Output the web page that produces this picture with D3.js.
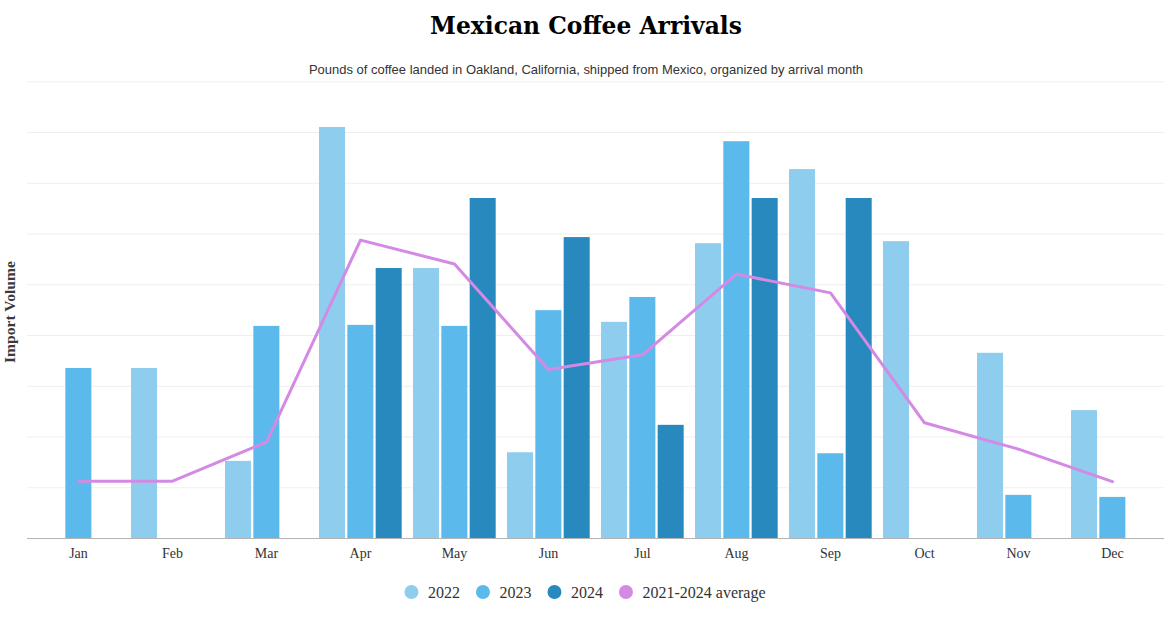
<!DOCTYPE html>
<html>
<head>
<meta charset="utf-8">
<script src="https://cdn.jsdelivr.net/npm/d3@7"></script>
<style>
  html, body { margin: 0; padding: 0; background: #fff; }
  svg { display: block; }
</style>
</head>
<body>
<svg id="chart" width="1172" height="627"></svg>
<script>
// ---- data (pounds) ----
const months = ["Jan","Feb","Mar","Apr","May","Jun","Jul","Aug","Sep","Oct","Nov","Dec"];
const seriesNames = ["2022","2023","2024"];
const values2022 = [null, 33500, 15200, 81000, 53200, 16900, 42600, 58100, 72700, 58500, 36500, 25200];
const values2023 = [33500, null, 41800, 42000, 41800, 44900, 47500, 78200, 16700, null, 8500, 8100];
const values2024 = [null, null, null, 53200, 67000, 59300, 22300, 67000, 67000, null, null, null];
const averageValues = [11200, 11200, 18900, 58700, 54000, 33200, 36100, 52000, 48300, 22700, 17500, 11100];
const averageName = "2021-2024 average";
const yTicks = [0, 10000, 20000, 30000, 40000, 50000, 60000, 70000, 80000, 90000];
const colors = {"2022": "#8ecdee", "2023": "#5cb9eb", "2024": "#2889be", "avg": "#d48ae4"};

const titleText = "Mexican Coffee Arrivals";
const subtitleText = "Pounds of coffee landed in Oakland, California, shipped from Mexico, organized by arrival month";
const yTitleText = "Import Volume";

const seriesValues = {"2022": values2022, "2023": values2023, "2024": values2024};

const svg = d3.select("#chart");
const W = 1172;

// scales
const x = d3.scaleBand().domain(months).range([31.5, 1159.5]).padding(0);
const x1 = d3.scaleBand().domain(seriesNames).range([-42.5, 42.5]).padding(0);
const y = d3.scaleLinear().domain([0, 90000]).range([538, 81.3]);
const cx = m => x(m) + x.bandwidth() / 2;

function fit(sel, target) {
  const len = sel.node().getComputedTextLength();
  const fs = parseFloat(sel.attr("font-size"));
  sel.attr("font-size", (fs * target / len).toFixed(2));
}

// title
const title = svg.append("text")
  .attr("x", W / 2).attr("y", 34)
  .attr("text-anchor", "middle")
  .attr("font-family", "'DejaVu Serif', serif")
  .attr("font-weight", "bold")
  .attr("font-size", 22)
  .attr("fill", "#000")
  .text(titleText);
fit(title, 312);

const sub = svg.append("text")
  .attr("x", W / 2).attr("y", 74)
  .attr("text-anchor", "middle")
  .attr("font-family", "'Liberation Sans', Arial, sans-serif")
  .attr("font-size", 12.5)
  .attr("fill", "#333")
  .text(subtitleText);
fit(sub, 554);

// gridlines via axis
const gridG = svg.append("g").attr("transform", "translate(1164,0)")
  .call(d3.axisRight(y).tickValues(yTicks.slice(1)).tickSize(-(1164 - 27)).tickFormat(""));
gridG.select(".domain").remove();
gridG.selectAll(".tick line").attr("stroke", "#efefef").attr("stroke-width", 1);

// bars
const barData = [];
seriesNames.forEach(s => {
  seriesValues[s].forEach((v, i) => {
    if (v != null) barData.push({s, m: months[i], v});
  });
});
svg.append("g").selectAll("rect").data(barData).join("rect")
  .attr("x", d => cx(d.m) + x1(d.s) + 1)
  .attr("width", x1.bandwidth() - 2.3)
  .attr("y", d => y(d.v))
  .attr("height", d => y(0) - y(d.v))
  .attr("fill", d => colors[d.s]);

// x axis
const xAxisG = svg.append("g").attr("transform", "translate(0,538)")
  .call(d3.axisBottom(x).tickSize(0).tickPadding(10));
xAxisG.select(".domain").remove();
xAxisG.append("line").attr("x1", 27).attr("x2", 1164).attr("y1", 0.5).attr("y2", 0.5)
  .attr("stroke", "#b3b3b3").attr("stroke-width", 1);
xAxisG.selectAll(".tick text")
  .attr("font-family", "'Liberation Serif', serif")
  .attr("font-size", 14)
  .attr("fill", "#333");

// average line
const line = d3.line().x((d, i) => cx(months[i])).y(d => y(d));
svg.append("path")
  .datum(averageValues)
  .attr("d", line)
  .attr("fill", "none")
  .attr("stroke", colors.avg)
  .attr("stroke-width", 3)
  .attr("stroke-linejoin", "round")
  .attr("stroke-linecap", "round");

// y title
const yt = svg.append("text")
  .attr("transform", "translate(9,312) rotate(-90)")
  .attr("text-anchor", "middle")
  .attr("dominant-baseline", "central")
  .attr("font-family", "'Liberation Serif', serif")
  .attr("font-weight", "bold")
  .attr("font-size", 15)
  .attr("fill", "#3a3a3a")
  .text(yTitleText);
fit(yt, 102);

// legend
const legendItems = [
  {name: "2022", color: colors["2022"]},
  {name: "2023", color: colors["2023"]},
  {name: "2024", color: colors["2024"]},
  {name: averageName, color: colors.avg}
];
const lg = svg.append("g");
let off = 0;
const gap = 16;
legendItems.forEach(it => {
  const g = lg.append("g").attr("transform", `translate(${off},0)`);
  g.append("circle").attr("cx", 7).attr("cy", 592).attr("r", 7).attr("fill", it.color);
  const t = g.append("text").attr("x", 23.5).attr("y", 597.5)
    .attr("font-family", "'Liberation Serif', serif")
    .attr("font-size", 16).attr("fill", "#333").text(it.name);
  off += 23.5 + t.node().getComputedTextLength() + gap;
});
const totalW = off - gap;
lg.attr("transform", `translate(${(W - totalW) / 2 - 1},0)`);
</script>
</body>
</html>
